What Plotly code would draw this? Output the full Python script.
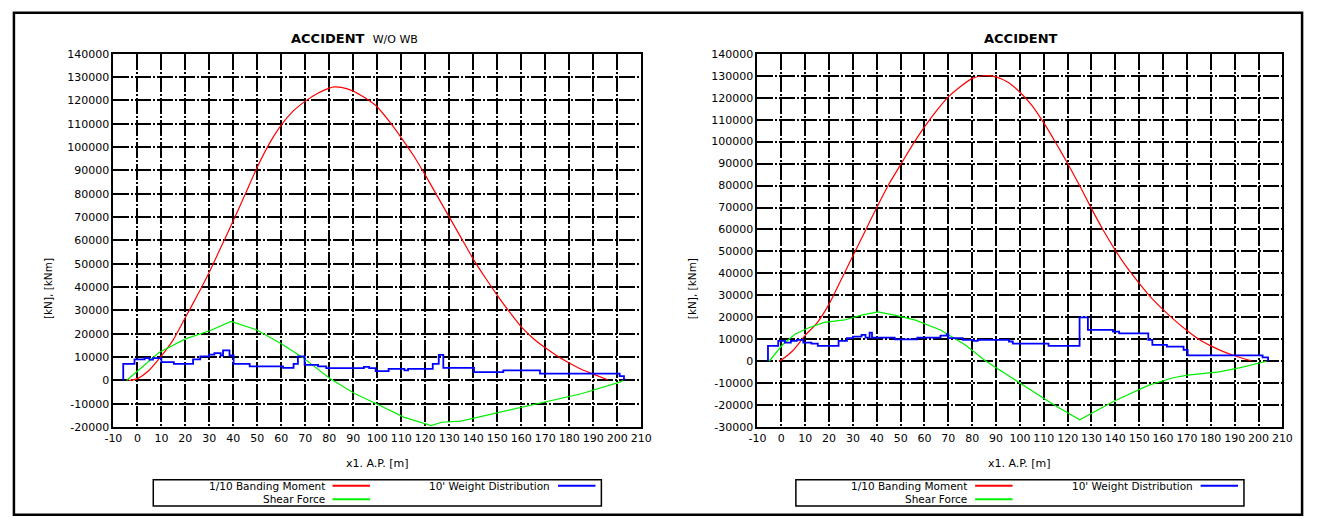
import plotly.graph_objects as go

W, H = 1318, 517
FONT = "DejaVu Sans"

# ---------------- data: ACCIDENT W/O WB (left) ----------------
bm_l_x = [-3.5, 0, 5, 10, 15, 20, 25, 30, 35, 40, 45, 50, 55, 60, 65, 70, 75, 80, 82, 85,
          90, 95, 100, 105, 110, 115, 120, 125, 130, 135, 140, 145, 150, 155, 160, 165,
          170, 175, 180, 185, 190, 196]
bm_l_y = [0, 800, 4500, 10500, 17500, 27000, 36500, 46500, 57500, 68500, 80000, 91500,
          101500, 109500, 115500, 119700, 123000, 125300, 125800, 125600, 124000, 121000,
          117200, 111000, 104000, 96500, 88000, 79000, 70000, 61000, 52000, 44000, 36500,
          29500, 23000, 18000, 14000, 10500, 7500, 4800, 2700, 300]

sf_l_x = [-4.5, 9, 20, 30.4, 39, 49.6, 60, 68.7, 80.4, 90.7, 99.6, 111, 122.4, 126.8,
          134.8, 148, 168.7, 185, 201, 202.5]
sf_l_y = [0, 12000, 17800, 21400, 25300, 21700, 15700, 10000, 700, -5700, -10000,
          -15700, -19300, -17900, -17400, -14300, -9300, -5700, -700, 0]

wd_l_x = [-5.9, -5.9, -1.2, 3, 5, 6.5, 10, 15.2, 23.2, 26.2, 29.9, 32.1, 34.7, 35.7, 38.4,
          40.1, 46.8, 60.7, 65.1, 66.9, 69.7, 75.3, 78.7, 94.4, 96.6, 99.3, 104.7, 111.3,
          112.8, 123.1, 125.6, 127.5, 140.3, 152.5, 167.8, 201.0, 202.8]
wd_l_y = [0, 7100, 9000, 9600, 8900, 9600, 7900, 7100, 9000, 10300, 11100, 11700, 10700,
          12900, 10700, 7100, 6000, 5400, 7100, 10300, 6700, 6000, 5300, 5800, 5300, 4000,
          5000, 4300, 5000, 7100, 11000, 5400, 3600, 4300, 2900, 1900, 0]

# ---------------- data: ACCIDENT (right) ----------------
bm_r_x = [-1, 0, 5, 10, 15, 20, 25, 30, 35, 40, 45, 50, 55, 60, 65, 70, 75, 80, 85, 90,
          95, 100, 105, 110, 115, 120, 125, 130, 135, 140, 145, 150, 155, 160, 165, 170,
          175, 180, 185, 190, 195, 197]
bm_r_y = [0, 600, 5000, 11800, 17500, 26000, 37000, 48000, 59000, 70000, 80500, 89500,
          98500, 106700, 114000, 120400, 125000, 128800, 130000, 129500, 127000, 122500,
          116500, 108500, 99500, 90000, 80000, 69500, 59500, 50500, 42500, 35500, 29000,
          23500, 18500, 14000, 10000, 7000, 4500, 2500, 800, 300]

sf_r_x = [-5.1, 0.5, 5.7, 11, 17.9, 26.6, 33.6, 40.5, 47.5, 56.2, 66.7, 77, 85.8, 99.8,
          113.7, 125, 131, 139.8, 153.8, 164.2, 170.3, 183.4, 192, 203.4]
sf_r_y = [0, 7500, 12300, 15000, 17700, 18800, 21000, 22500, 21000, 18700, 14200, 7500,
          0, -9800, -19500, -26700, -23200, -18000, -11000, -7500, -6300, -4800, -3000, 0]

wd_r_x = [-5.6, -5.6, -1.3, 1.5, 4, 6.5, 9.2, 12.6, 15.3, 24, 27.5, 30, 33.6, 35.3, 37,
          38, 47.5, 57, 66.7, 69.3, 70, 76, 80.6, 82.3, 95.4, 97, 112, 125, 128.5, 139,
          141.6, 153.8, 155.5, 161.6, 168.6, 170.3, 201.7, 204]
wd_r_y = [0, 7000, 9300, 8500, 9300, 9700, 8500, 8000, 7000, 9300, 10500, 11200, 12000,
          10800, 13000, 10800, 10000, 10800, 11700, 12300, 10500, 9700, 9300, 9700, 9000,
          8000, 7000, 20000, 14300, 13500, 12700, 9700, 7500, 6700, 5200, 2700, 1800, 0]

# ---------------- axis ticks and texts ----------------
x_tick_vals = list(range(-10, 211, 10))
y_tick_vals_l = list(range(-20000, 140001, 10000))
y_tick_vals_r = list(range(-30000, 140001, 10000))
x_tick_text = [str(v) for v in x_tick_vals]
y_tick_text_l = [str(v) for v in y_tick_vals_l]
y_tick_text_r = [str(v) for v in y_tick_vals_r]

titles = ["<b>ACCIDENT</b>  <span style='font-size:11px'>W/O WB</span>", "<b>ACCIDENT</b>"]
legend_labels = ["1/10 Banding Moment", "Shear Force", "10' Weight Distribution"]
x_title = "x1. A.P. [m]"
y_title = "[kN], [kNm]"

RED, GREEN, BLUE = "#ff0000", "#00f000", "#0000ff"

# pixel boxes of the two plot areas
panels = [
    dict(x0=106, x1=642, yvals=y_tick_vals_l, ytext=y_tick_text_l),
    dict(x0=760, x1=1293, yvals=y_tick_vals_r, ytext=y_tick_text_r),
]
PY0, PY1 = 49, 432


def px(x):
    return x / W


def py(y):
    return 1 - y / H


fig = go.Figure()

series = [
    (bm_l_x, bm_l_y, wd_l_x, wd_l_y, sf_l_x, sf_l_y),
    (bm_r_x, bm_r_y, wd_r_x, wd_r_y, sf_r_x, sf_r_y),
]

for i, (bx, by, wx, wy, sx, sy) in enumerate(series):
    xa = "x" if i == 0 else "x2"
    ya = "y" if i == 0 else "y2"
    fig.add_trace(go.Scatter(x=bx, y=by, mode="lines", xaxis=xa, yaxis=ya,
                             line=dict(color=RED, width=1.2, shape="spline", smoothing=0.6),
                             name=legend_labels[0], hoverinfo="skip"))
    fig.add_trace(go.Scatter(x=sx, y=sy, mode="lines", xaxis=xa, yaxis=ya,
                             line=dict(color=GREEN, width=1.2),
                             name=legend_labels[1], hoverinfo="skip"))
    fig.add_trace(go.Scatter(x=wx, y=wy, mode="lines", xaxis=xa, yaxis=ya,
                             line=dict(color=BLUE, width=1.8, shape="hv"),
                             name=legend_labels[2], hoverinfo="skip"))

axis_common = dict(
    showgrid=True, gridcolor="black", gridwidth=1.6, griddash="16px,2px,2px,2px",
    showline=True, linecolor="black", linewidth=2, mirror=True,
    ticks="", zeroline=False, tickangle=0, tickmode="array",
    tickfont=dict(family=FONT, size=11, color="black"),
)

layout = dict(
    width=W, height=H, margin=dict(l=0, r=0, t=0, b=0),
    paper_bgcolor="white", plot_bgcolor="white", showlegend=False,
)
for i, p in enumerate(panels):
    sfx = "" if i == 0 else "2"
    layout["xaxis" + sfx] = dict(
        domain=[px(p["x0"]), px(p["x1"])], range=[x_tick_vals[0], x_tick_vals[-1]],
        tickvals=x_tick_vals, ticktext=x_tick_text, anchor="y" + sfx, **axis_common)
    layout["yaxis" + sfx] = dict(
        domain=[py(PY1), py(PY0)], range=[p["yvals"][0], p["yvals"][-1]],
        tickvals=p["yvals"], ticktext=p["ytext"], anchor="x" + sfx, **axis_common)
fig.update_layout(**layout)

shapes = [dict(type="rect", xref="paper", yref="paper", x0=px(5), x1=px(1313),
               y0=py(7), y1=py(522), line=dict(color="black", width=2.5))]
annotations = []

for i, p in enumerate(panels):
    cx = (p["x0"] + p["x1"]) / 2
    # title
    if i == 0:
        annotations.append(dict(text=titles[0], x=px(284), y=py(33), xref="paper", yref="paper",
                                xanchor="left", yanchor="middle", showarrow=False,
                                font=dict(family=FONT, size=13, color="black")))
    else:
        annotations.append(dict(text=titles[1], x=px(cx + 1), y=py(33), xref="paper", yref="paper",
                                xanchor="center", yanchor="middle", showarrow=False,
                                font=dict(family=FONT, size=13, color="black")))
    # axis titles
    annotations.append(dict(text=x_title, x=px(cx), y=py(469), xref="paper", yref="paper",
                            xanchor="center", yanchor="middle", showarrow=False,
                            font=dict(family=FONT, size=11, color="black")))
    annotations.append(dict(text=y_title, x=px(p["x0"] - 67), y=py(290), xref="paper",
                            yref="paper", textangle=-90, xanchor="center", yanchor="middle",
                            showarrow=False, font=dict(family=FONT, size=10.5, color="black")))
    # legend box
    lx0 = cx - 227.5
    shapes.append(dict(type="rect", xref="paper", yref="paper", x0=px(lx0), x1=px(lx0 + 455),
                       y0=py(486), y1=py(513), line=dict(color="black", width=1.5)))
    entries = [(legend_labels[0], RED, 182, 492), (legend_labels[1], GREEN, 182, 506),
               (legend_labels[2], BLUE, 411, 492)]
    for label, col, off, yy in entries:
        shapes.append(dict(type="line", xref="paper", yref="paper",
                           x0=px(lx0 + off), x1=px(lx0 + off + 38), y0=py(yy), y1=py(yy),
                           line=dict(color=col, width=2)))
        annotations.append(dict(text=label, x=px(lx0 + off - 6), y=py(yy), xref="paper",
                                yref="paper", xanchor="right", yanchor="middle",
                                showarrow=False,
                                font=dict(family=FONT, size=10.5, color="black")))

fig.update_layout(shapes=shapes, annotations=annotations)
fig.write_html("out.html")
